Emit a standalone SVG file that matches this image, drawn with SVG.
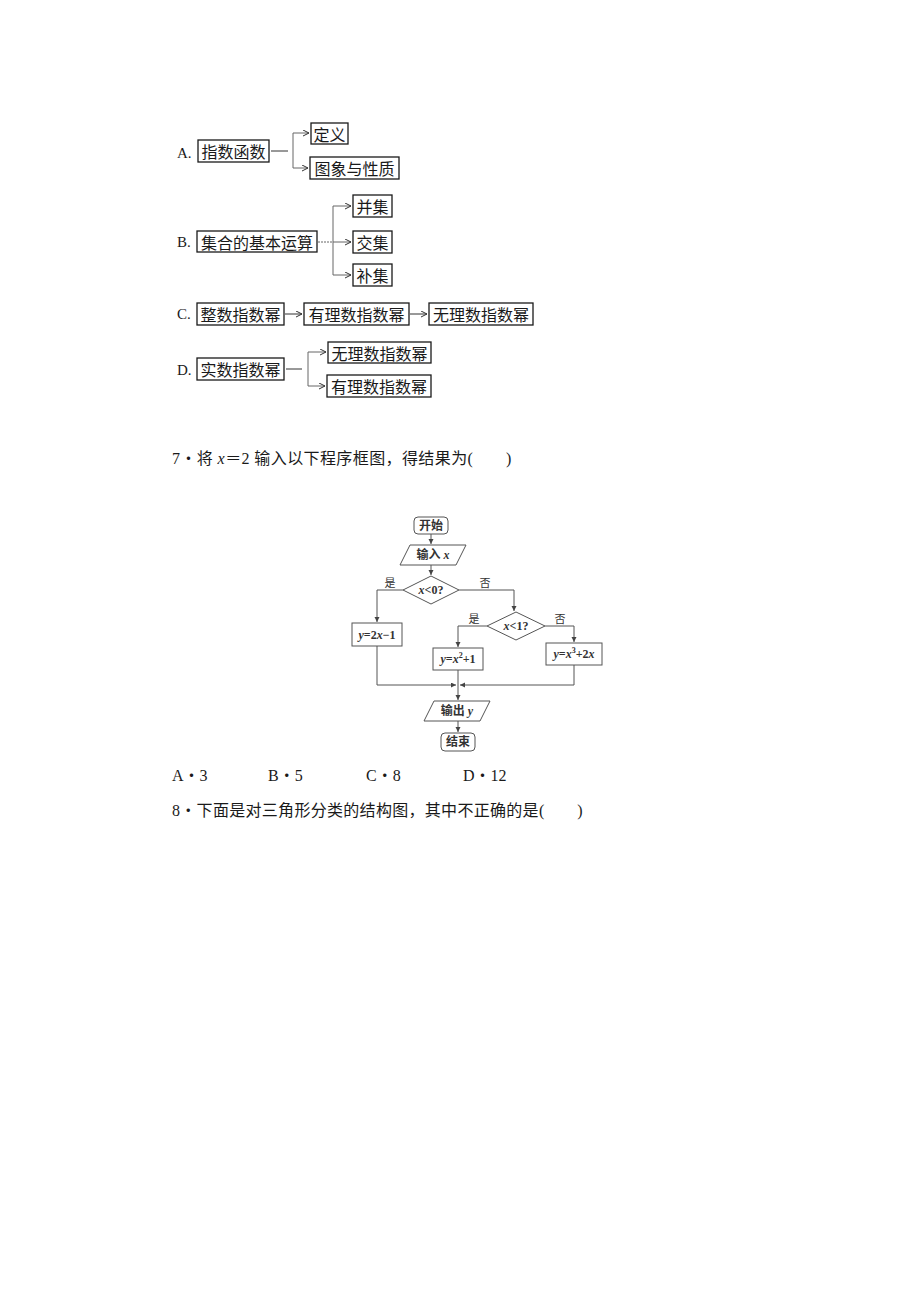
<svg xmlns="http://www.w3.org/2000/svg" width="920" height="1302" viewBox="0 0 920 1302">
<style>
.bg{fill:#fff}
.box{fill:#fff;stroke:#1a1a1a;stroke-width:1.3}
.bt{font-family:"Noto Sans CJK SC",sans-serif;font-size:16px;fill:#1a1a1a;text-anchor:middle;dominant-baseline:central}
.lab{font-family:"Liberation Serif","Noto Sans CJK SC",serif;font-size:15px;fill:#1a1a1a}
.q{font-family:"Liberation Serif","Noto Sans CJK SC",serif;font-size:16px;fill:#1a1a1a}
.conn{fill:none;stroke:#333;stroke-width:1}
.gconn{fill:none;stroke:#666;stroke-width:1}
.fs{fill:#fff;stroke:#555;stroke-width:1}
.ft{font-family:"Liberation Serif","Noto Sans CJK SC",serif;font-size:12px;font-weight:bold;fill:#333;text-anchor:middle;dominant-baseline:central}
.yn{font-family:"Noto Sans CJK SC",sans-serif;font-size:11px;fill:#333;text-anchor:middle;dominant-baseline:central}
.fc{fill:none;stroke:#555;stroke-width:1}
</style>
<defs>
<marker id="ar" markerUnits="userSpaceOnUse" markerWidth="8" markerHeight="8" refX="6" refY="3" orient="auto"><path d="M0,0 L6,3 L0,6" fill="none" stroke="#333" stroke-width="1"/></marker>
<marker id="fa" markerUnits="userSpaceOnUse" markerWidth="6" markerHeight="6" refX="5" refY="2.5" orient="auto"><path d="M0,0 L5,2.5 L0,5 z" fill="#444"/></marker>
</defs>
<rect class="bg" x="0" y="0" width="920" height="1302"/>

<!-- Labels -->
<text class="lab" x="177" y="158">A.</text>
<text class="lab" x="177" y="247">B.</text>
<text class="lab" x="177" y="319">C.</text>
<text class="lab" x="177" y="375">D.</text>

<g id="connectors">
  <!-- A -->
  <path class="conn" d="M271,151 H288"/>
  <path class="gconn" d="M293,133 V168"/>
  <path class="gconn" d="M293,133 H309" marker-end="url(#ar)"/>
  <path class="gconn" d="M293,168 H308" marker-end="url(#ar)"/>
  <!-- B -->
  <path class="gconn" d="M318,242 H333" stroke-dasharray="2,1"/>
  <path class="gconn" d="M333,206 V275"/>
  <path class="gconn" d="M333,206 H351" marker-end="url(#ar)"/>
  <path class="gconn" d="M333,242 H351" marker-end="url(#ar)"/>
  <path class="gconn" d="M333,275 H351" marker-end="url(#ar)"/>
  <!-- C -->
  <path class="conn" d="M285,314 H302" marker-end="url(#ar)"/>
  <path class="conn" d="M410,314 H427" marker-end="url(#ar)"/>
  <!-- D -->
  <path class="conn" d="M286,369 H302"/>
  <path class="gconn" d="M308,352 V386"/>
  <path class="gconn" d="M308,352 H326" marker-end="url(#ar)"/>
  <path class="gconn" d="M308,386 H325" marker-end="url(#ar)"/>
  <!-- flowchart -->
  <path class="fc" d="M431,534 V544" marker-end="url(#fa)"/>
  <path class="fc" d="M431,565 V575" marker-end="url(#fa)"/>
  <path class="fc" d="M403,590 H377 V622" marker-end="url(#fa)"/>
  <path class="fc" d="M459,590 H514 V611" marker-end="url(#fa)"/>
  <path class="fc" d="M487,626 H458 V647" marker-end="url(#fa)"/>
  <path class="fc" d="M545,626 H574 V642" marker-end="url(#fa)"/>
  <path class="fc" d="M377,646 V685 H456" marker-end="url(#fa)"/>
  <path class="fc" d="M574,665 V685 H460" marker-end="url(#fa)"/>
  <path class="fc" d="M458,670 V700" marker-end="url(#fa)"/>
  <path class="fc" d="M458,721 V732" marker-end="url(#fa)"/>
  <text class="yn" x="390" y="582">是</text>
  <text class="yn" x="485" y="582">否</text>
  <text class="yn" x="474" y="618">是</text>
  <text class="yn" x="560" y="618">否</text>
</g>

<g id="a-root"><rect class="box" x="198" y="140" width="71" height="22"/><text class="bt" x="233.5" y="151">指数函数</text></g>
<g id="a-def"><rect class="box" x="311" y="123" width="37" height="21"/><text class="bt" x="329.5" y="133.5">定义</text></g>
<g id="a-prop"><rect class="box" x="310" y="157" width="89" height="22" stroke-width="1.8"/><text class="bt" x="354.5" y="168">图象与性质</text></g>

<g id="b-root"><rect class="box" x="197" y="231" width="120" height="21"/><text class="bt" x="257" y="241.5">集合的基本运算</text></g>
<g id="b-union"><rect class="box" x="353" y="195" width="39" height="22"/><text class="bt" x="372.5" y="206">并集</text></g>
<g id="b-inter"><rect class="box" x="353" y="231" width="39" height="22"/><text class="bt" x="372.5" y="242">交集</text></g>
<g id="b-comp"><rect class="box" x="353" y="264" width="39" height="22" stroke-width="1.8"/><text class="bt" x="372.5" y="275">补集</text></g>

<g id="c-int"><rect class="box" x="197" y="303" width="87" height="22"/><text class="bt" x="240.5" y="314">整数指数幂</text></g>
<g id="c-rat"><rect class="box" x="304" y="303" width="105" height="22"/><text class="bt" x="356.5" y="314">有理数指数幂</text></g>
<g id="c-irr"><rect class="box" x="429" y="303" width="104" height="22"/><text class="bt" x="481" y="314">无理数指数幂</text></g>

<g id="d-root"><rect class="box" x="197" y="358" width="87" height="22"/><text class="bt" x="240.5" y="369">实数指数幂</text></g>
<g id="d-irr"><rect class="box" x="328" y="342" width="103" height="21"/><text class="bt" x="379.5" y="352.5">无理数指数幂</text></g>
<g id="d-rat"><rect class="box" x="327" y="375" width="104" height="22" stroke-width="1.8"/><text class="bt" x="379" y="386">有理数指数幂</text></g>

<g id="q7"><text class="q" x="172" y="464" letter-spacing="0.4">7・将 <tspan font-style="italic">x</tspan>＝2 输入以下程序框图，得结果为(　　)</text></g>

<g id="start"><rect class="fs" x="414" y="517" width="34" height="17" rx="4"/><text class="ft" x="431" y="525.5">开始</text></g>
<g id="input"><polygon class="fs" points="410,545 466,545 456,565 400,565"/><text class="ft" x="433" y="555">输入 <tspan font-style="italic">x</tspan></text></g>
<g id="dec1"><polygon class="fs" points="431,576 459,590 431,604 403,590"/><text class="ft" x="431" y="590"><tspan font-style="italic">x</tspan>&lt;0?</text></g>
<g id="dec2"><polygon class="fs" points="516,612 545,626 516,640 487,626"/><text class="ft" x="516" y="626"><tspan font-style="italic">x</tspan>&lt;1?</text></g>
<g id="p1"><rect class="fs" x="352" y="623" width="50" height="23"/><text class="ft" x="377" y="634.5"><tspan font-style="italic">y</tspan>=2<tspan font-style="italic">x</tspan>−1</text></g>
<g id="p2"><rect class="fs" x="433" y="648" width="50" height="22"/><text class="ft" x="458" y="659"><tspan font-style="italic">y</tspan>=<tspan font-style="italic">x</tspan><tspan font-size="8" dy="-4">2</tspan><tspan dy="4">+1</tspan></text></g>
<g id="p3"><rect class="fs" x="546" y="643" width="56" height="22"/><text class="ft" x="574" y="654"><tspan font-style="italic">y</tspan>=<tspan font-style="italic">x</tspan><tspan font-size="8" dy="-4">3</tspan><tspan dy="4">+2</tspan><tspan font-style="italic">x</tspan></text></g>
<g id="output"><polygon class="fs" points="434,701 490,701 480,721 424,721"/><text class="ft" x="457" y="711">输出 <tspan font-style="italic">y</tspan></text></g>
<g id="end"><rect class="fs" x="441" y="733" width="34" height="18" rx="4"/><text class="ft" x="458" y="742">结束</text></g>

<g id="options">
<text class="q" x="172" y="781">A・3</text>
<text class="q" x="268" y="781">B・5</text>
<text class="q" x="366" y="781">C・8</text>
<text class="q" x="463" y="781">D・12</text>
</g>
<g id="q8"><text class="q" x="172" y="816" letter-spacing="0.3">8・下面是对三角形分类的结构图，其中不正确的是(　　)</text></g>
</svg>
